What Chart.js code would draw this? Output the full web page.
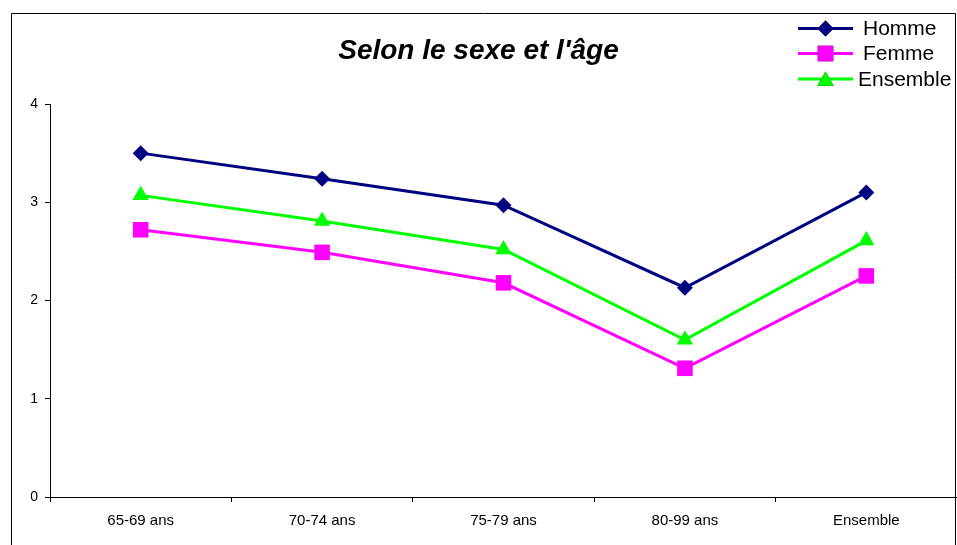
<!DOCTYPE html>
<html>
<head>
<meta charset="utf-8">
<script src="https://cdn.jsdelivr.net/npm/chart.js@4.4.0/dist/chart.umd.min.js"></script>
<style>
    html, body { margin: 0; padding: 0; background: #fff; }
    #wrap { width: 957px; height: 545px; }
</style>
</head>
<body>
<div id="wrap"><canvas id="ageChart"></canvas></div>
<script>
const categories = ['65-69 ans', '70-74 ans', '75-79 ans', '80-99 ans', 'Ensemble'];
const homme = [3.50, 3.24, 2.97, 2.13, 3.10];
const femme = [2.72, 2.49, 2.18, 1.31, 2.25];
const ensemble = [3.07, 2.81, 2.52, 1.60, 2.61];
const seriesLabels = ['Homme', 'Femme', 'Ensemble'];
const yTicks = [0, 1, 2, 3, 4];

// white background + outer frame (open at the bottom, like the source)
const framePlugin = {
    id: 'frame',
    beforeDraw(chart) {
        const c = chart.ctx;
        c.save();
        c.fillStyle = '#fff';
        c.fillRect(0, 0, chart.width, chart.height);
        c.strokeStyle = '#000';
        c.lineWidth = 1;
        c.beginPath();
        c.moveTo(11.5, chart.height);
        c.lineTo(11.5, 13.5);
        c.lineTo(955.5, 13.5);
        c.lineTo(955.5, chart.height);
        c.stroke();
        c.restore();
    }
};

// legend drawn in the top right corner, over the frame
const legendPlugin = {
    id: 'cornerLegend',
    afterDraw(chart) {
        const c = chart.ctx;
        const rows = [28.5, 53.5, 79];
        c.save();
        chart.data.datasets.forEach((ds, i) => {
            const y = rows[i];
            c.strokeStyle = ds.borderColor;
            c.lineWidth = ds.borderWidth;
            c.beginPath();
            c.moveTo(798, y);
            c.lineTo(853, y);
            c.stroke();
            Chart.helpers.drawPoint(c, {
                pointStyle: ds.pointStyle,
                radius: ds.pointRadius,
                rotation: 0,
                borderWidth: 0
            }, 825.5, y + (ds.pointStyle === 'triangle' ? 2 : 0));
            c.fillStyle = ds.pointBackgroundColor;
            c.fill();
            c.fillStyle = '#000';
            c.font = '21px "Liberation Sans", Arial, sans-serif';
            c.textBaseline = 'middle';
            c.textAlign = 'left';
            c.fillText(ds.label, i === 2 ? 858 : 863, y + 1);
        });
        c.restore();
    }
};

function series(label, values, color, style, radius) {
    return {
        label: label,
        data: values,
        borderColor: color,
        backgroundColor: color,
        pointBackgroundColor: color,
        pointBorderColor: color,
        pointBorderWidth: 0,
        borderWidth: 3,
        pointStyle: style,
        pointRadius: radius,
        pointHoverRadius: radius,
        tension: 0,
        fill: false
    };
}

const ctx = document.getElementById('ageChart');
new Chart(ctx, {
    type: 'line',
    data: {
        labels: categories,
        datasets: [
            series(seriesLabels[0], homme, '#000080', 'rectRot', 8),
            series(seriesLabels[1], femme, '#FF00FF', 'rect', 11),
            series(seriesLabels[2], ensemble, '#00FF00', 'triangle', 9.5)
        ]
    },
    options: {
        responsive: true,
        maintainAspectRatio: false,
        animation: false,
        layout: {
            autoPadding: false,
            padding: { left: 0, right: 0, top: 0, bottom: 0 }
        },
        scales: {
            x: {
                offset: true,
                grid: {
                    offset: true,
                    drawOnChartArea: false,
                    drawTicks: true,
                    tickLength: 5,
                    color: '#000'
                },
                border: { color: '#000', width: 1 },
                ticks: {
                    color: '#000',
                    padding: 10,
                    maxRotation: 0,
                    font: { family: '"Liberation Sans", Arial, sans-serif', size: 15 }
                },
                afterFit(scale) { scale.height = 48; }
            },
            y: {
                min: 0,
                max: 4,
                afterBuildTicks(scale) {
                    scale.ticks = yTicks.map(v => ({ value: v }));
                },
                grid: {
                    drawOnChartArea: false,
                    drawTicks: true,
                    tickLength: 5,
                    color: '#000'
                },
                border: { color: '#000', width: 1 },
                ticks: {
                    color: '#000',
                    padding: 7,
                    font: { family: '"Liberation Sans", Arial, sans-serif', size: 14 }
                },
                afterFit(scale) { scale.width = 50; }
            }
        },
        plugins: {
            legend: { display: false },
            tooltip: { enabled: false },
            title: {
                display: true,
                text: "Selon le sexe et l'âge",
                color: '#000',
                font: { family: '"Liberation Sans", Arial, sans-serif', size: 28, style: 'italic', weight: 'bold' },
                padding: { top: 34, bottom: 36.4 }
            }
        }
    },
    plugins: [framePlugin, legendPlugin]
});
</script>
</body>
</html>
